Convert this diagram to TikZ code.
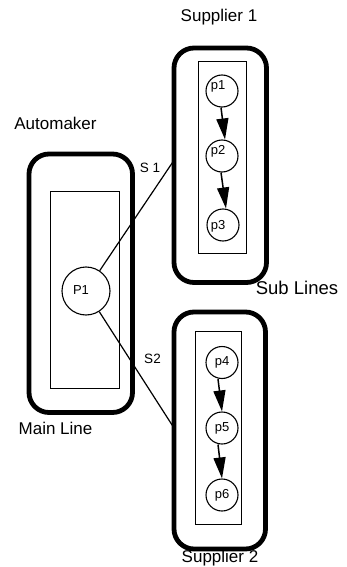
\documentclass[tikz,border=0pt]{standalone}
\usepackage{fontspec}
\setmainfont{Liberation Sans}
\usetikzlibrary{arrows.meta}
\begin{document}
\begin{tikzpicture}[x=1pt,y=-1pt,
  outerbox/.style={draw, line width=4.8pt, rounded corners=20pt, inner sep=0pt, outer sep=0pt},
  innerbox/.style={draw, line width=1pt, inner sep=0pt, outer sep=0pt},
  proc/.style={draw, circle, line width=1.1pt, minimum size=32pt, inner sep=0pt, font=\fontsize{13}{15}\selectfont},
  bigproc/.style={draw, circle, line width=1.1pt, minimum size=48pt, inner sep=0pt},
  lbl/.style={anchor=base, inner sep=0pt, font=\fontsize{17}{20}\selectfont},
  small/.style={anchor=base, inner sep=0pt, font=\fontsize{13.5}{16}\selectfont},
  conn/.style={line width=1.2pt},
  arr/.style={line width=1.5pt, -{Triangle[width=12pt,length=21pt]}}
]
\useasboundingbox (0,0) rectangle (346,567);
% Automaker
\node[outerbox, minimum width=103.5pt, minimum height=258.5pt] (mainouter) at (80.75,283.25) {};
\node[innerbox, minimum width=69.3pt, minimum height=196.6pt] (maininner) at (84.7,290) {};
\node[bigproc] (P1) at (86,291) {};
\node[small, font=\fontsize{13}{15}\selectfont] (P1t) at (81,294.5) {P1};
% Supplier 1
\node[outerbox, minimum width=92.5pt, minimum height=234.5pt] (sup1) at (220.25,165.25) {};
\node[innerbox, minimum width=48pt, minimum height=191pt] (sup1in) at (222,157.5) {};
\node[proc, label={[xshift=-4pt,yshift=5pt,font=\fontsize{13}{15}\selectfont]center:p1}] (p1) at (222,91) {};
\node[proc, label={[xshift=-4pt,yshift=5pt,font=\fontsize{13}{15}\selectfont]center:p2}] (p2) at (222,156) {};
\node[proc, label={[xshift=-5pt,yshift=-1pt,font=\fontsize{13}{15}\selectfont]center:p3}] (p3) at (223,225) {};
% Supplier 2
\node[outerbox, minimum width=91.5pt, minimum height=237pt] (sup2) at (219.75,430.5) {};
\node[innerbox, minimum width=45.7pt, minimum height=193.3pt] (sup2in) at (218.8,428.3) {};
\node[proc] (p4) at (222,362.5) {p4};
\node[proc] (p5) at (222,428) {p5};
\node[proc] (p6) at (222,495) {p6};
% arrows
\draw[arr] ([xshift=-1pt]p1.south) -- ([xshift=3pt]p2.north);
\draw[arr] ([xshift=-1pt]p2.south) -- ([xshift=3pt]p3.north);
\draw[arr] ([xshift=-4pt]p4.south) -- ([xshift=0pt]p5.north);
\draw[arr] ([xshift=-4pt]p5.south) -- ([xshift=0pt]p6.north);
% connectors
\draw[conn] (P1) -- ([yshift=5pt]sup1.west);
\draw[conn] (P1) -- ([yshift=2.5pt]sup2.west);
% labels
\node[lbl] (tsup1) at (219,21.7) {Supplier 1};
\node[lbl, font=\fontsize{18.5}{22}\selectfont] (tsub) at (297,294) {Sub Lines};
\node[lbl] (tauto) at (55.5,129) {Automaker};
\node[lbl] (tmain) at (55.5,434.3) {Main Line};
\node[small] (ts1) at (150,172.5) {S 1};
\node[small] (ts2) at (152.5,363) {S2};
\node[lbl] (tsup2) at (220,562) {Supplier 2};
\end{tikzpicture}
\end{document}
